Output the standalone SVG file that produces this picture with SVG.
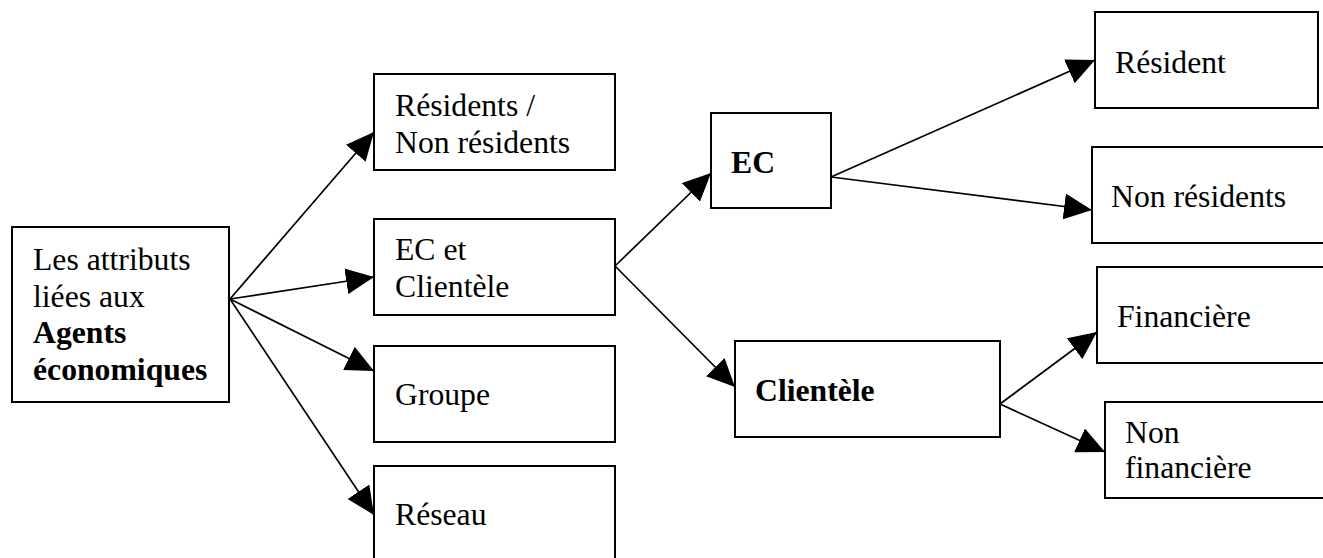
<svg xmlns="http://www.w3.org/2000/svg" width="1323" height="558" viewBox="0 0 1323 558">
<style>
.box{fill:#fff;stroke:#000;stroke-width:2}
text{font-size:31.7px;fill:#000}
.b{font-weight:bold}
.c{stroke:#000;stroke-width:1.7;fill:none;marker-end:url(#ah)}
</style>
<defs>
<marker id="ah" viewBox="0 0 28 26" refX="28" refY="13" markerWidth="28" markerHeight="26" markerUnits="userSpaceOnUse" orient="auto">
<path d="M0,0 L28,13 L0,26 z" fill="#000"/>
</marker>
</defs>
<rect width="1323" height="558" fill="#fff"/>
<g id="connectors">
<line class="c" x1="230" y1="299" x2="374" y2="132"/>
<line class="c" x1="230" y1="299" x2="374" y2="277"/>
<line class="c" x1="230" y1="299" x2="374" y2="371"/>
<line class="c" x1="230" y1="299" x2="374" y2="515"/>
<line class="c" x1="615" y1="266" x2="711" y2="173"/>
<line class="c" x1="615" y1="266" x2="735" y2="387"/>
<line class="c" x1="831" y1="177" x2="1095" y2="60"/>
<line class="c" x1="831" y1="177" x2="1092" y2="210"/>
<line class="c" x1="1000" y1="404" x2="1097" y2="332"/>
<line class="c" x1="1000" y1="404" x2="1105" y2="452"/>
</g>
<g font-family="'Liberation Serif', 'Times New Roman', 'DejaVu Serif', serif">
<g id="agents">
<rect class="box" x="12" y="227" width="217" height="175"/>
<text x="33" y="270">Les attributs</text>
<text x="33" y="307">liées aux</text>
<text class="b" x="33" y="343">Agents</text>
<text class="b" x="33" y="380">économiques</text>
</g>
<g id="residents">
<rect class="box" x="374" y="74" width="241" height="96"/>
<text x="395" y="116">Résidents /</text>
<text x="395" y="153">Non résidents</text>
</g>
<g id="ec-clientele">
<rect class="box" x="374" y="219" width="241" height="96"/>
<text x="395" y="260">EC et</text>
<text x="395" y="297">Clientèle</text>
</g>
<g id="groupe">
<rect class="box" x="374" y="346" width="241" height="96"/>
<text x="395" y="405">Groupe</text>
</g>
<g id="reseau">
<rect class="box" x="374" y="466" width="241" height="100"/>
<text x="395" y="525">Réseau</text>
</g>
<g id="ec">
<rect class="box" x="711" y="113" width="120" height="95"/>
<text class="b" x="731" y="173">EC</text>
</g>
<g id="clientele">
<rect class="box" x="735" y="341" width="265" height="96"/>
<text class="b" x="755" y="401">Clientèle</text>
</g>
<g id="resident">
<rect class="box" x="1095" y="12" width="223" height="96"/>
<text x="1115" y="73">Résident</text>
</g>
<g id="non-residents">
<rect class="box" x="1092" y="147" width="240" height="96"/>
<text x="1111" y="207">Non résidents</text>
</g>
<g id="financiere">
<rect class="box" x="1097" y="267" width="240" height="96"/>
<text x="1117" y="327">Financière</text>
</g>
<g id="non-financiere">
<rect class="box" x="1105" y="402" width="240" height="96"/>
<text x="1125" y="443">Non</text>
<text x="1125" y="478">financière</text>
</g>
</g>
</svg>
